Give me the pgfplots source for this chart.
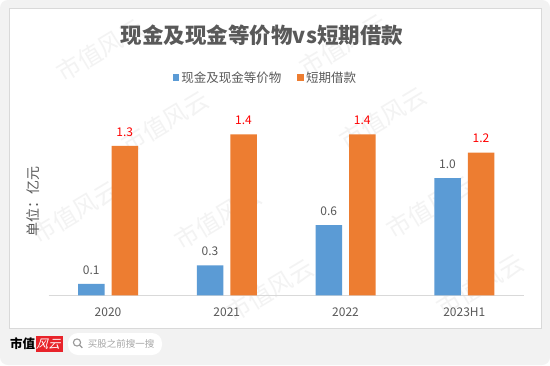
\documentclass[border=0pt]{standalone}
\usepackage{fontspec}
\setmainfont{Noto Sans CJK SC}
\usepackage{pgfplots}
\usepackage{pgfplotstable}
\pgfplotsset{compat=1.18}
\definecolor{cblue}{HTML}{5B9BD5}
\definecolor{corange}{HTML}{ED7D31}
\definecolor{tgray}{HTML}{595959}
\definecolor{lred}{HTML}{FF0000}
\definecolor{bggray}{HTML}{F2F2F2}
\definecolor{panelline}{HTML}{D9D9D9}
\definecolor{wm}{HTML}{F3F3F3}
\definecolor{logored}{HTML}{E8232A}

\pgfplotstableread{
x cash cashlbl debt debtlbl
0 0.10 0.1 1.30 1.3
1 0.26 0.3 1.40 1.4
2 0.61 0.6 1.40 1.4
3 1.02 1.0 1.24 1.2
}\datatable

\begin{document}
\begin{tikzpicture}[x=1bp,y=1bp]
\useasboundingbox (0,0) rectangle (550,365);
\fill[white] (0,0) rectangle (550,365);
\fill[bggray, rounded corners=8bp] (0,0) rectangle (550,365);
\fill[white] (9,37) rectangle (541,356);
\draw[panelline, line width=1bp] (9,37) rectangle (541,356);

% watermarks
\begin{scope}
\clip (9,37) rectangle (541,356);
\foreach \px/\py in {100/50, 343/45, 165/122, 383/118, 218/218, 430/207, 75/212, 270/290, 480/285}{
  \node[text=wm, rotate=31, font=\fontsize{24bp}{26bp}\selectfont] at (\px,365-\py) {市值风云};
}
\end{scope}

\begin{axis}[
  at={(41,60.6)}, anchor=south west,
  scale only axis,
  width=475bp, height=195.5bp,
  xmin=-0.5, xmax=3.5,
  ymin=0, ymax=1.7,
  ybar=7bp, bar width=26.5bp,
  axis x line*=bottom,
  axis y line=none,
  x axis line style={draw=panelline, line width=1bp, -},
  xtick={0,1,2,3},
  xticklabels={2020,2021,2022,2023H1},
  major tick length=0pt,
  ytick=\empty,
  xticklabel style={text=tgray, font=\fontsize{12bp}{14bp}\selectfont, anchor=center, yshift=-17bp},
  clip=false,
  nodes near coords,
  point meta=explicit symbolic,
  legend columns=2,
  legend style={at={(axis description cs:0.456,1.1136)}, anchor=center, draw=none, fill=none,
    font=\fontsize{12.5bp}{14bp}\selectfont, text=tgray,
    /tikz/every even column/.append style={column sep=14bp}},
  legend image code/.code={\fill[#1,draw=none] (-3.5bp,-3.4bp) rectangle (3.3bp,3.4bp);},
]
\addplot[fill=cblue, draw=none,
  nodes near coords style={text=tgray, font=\fontsize{12bp}{14bp}\selectfont, anchor=center, yshift=14bp}]
  table[x=x, y=cash, meta=cashlbl]{\datatable};
\addlegendentry{现金及现金等价物}
\addplot[fill=corange, draw=none,
  nodes near coords style={text=lred, font=\fontsize{12bp}{14bp}\selectfont, anchor=center, yshift=14bp}]
  table[x=x, y=debt, meta=debtlbl]{\datatable};
\addlegendentry{短期借款}
\end{axis}

% title
\node[text=tgray, font=\fontsize{21.5bp}{24bp}\selectfont\bfseries] at (262,330) {现金及现金等价物vs短期借款};
% y label
\node[text=tgray, rotate=90, font=\fontsize{14bp}{16bp}\selectfont] at (33,164) {单位：亿元};

% footer
\node[text=black, font=\fontsize{12.5bp}{14bp}\selectfont\bfseries, inner sep=0] at (22.5,21.5) {市值};
\fill[logored] (36,13) rectangle (63,29);
\node[text=white, font=\fontsize{12bp}{14bp}\selectfont, xslant=0.3, inner sep=0] at (49.5,21) {风云};
\fill[white, rounded corners=10bp] (68,10) rectangle (162,32);
\draw[gray!80, line width=1.1bp] (77,22.5) circle (3.6bp);
\draw[gray!80, line width=1.3bp] (79.6,19.9) -- (82.3,17.2);
\node[text=gray!70, font=\fontsize{9.5bp}{11bp}\selectfont, inner sep=0] at (121,21.5) {买股之前搜一搜};
\end{tikzpicture}
\end{document}
